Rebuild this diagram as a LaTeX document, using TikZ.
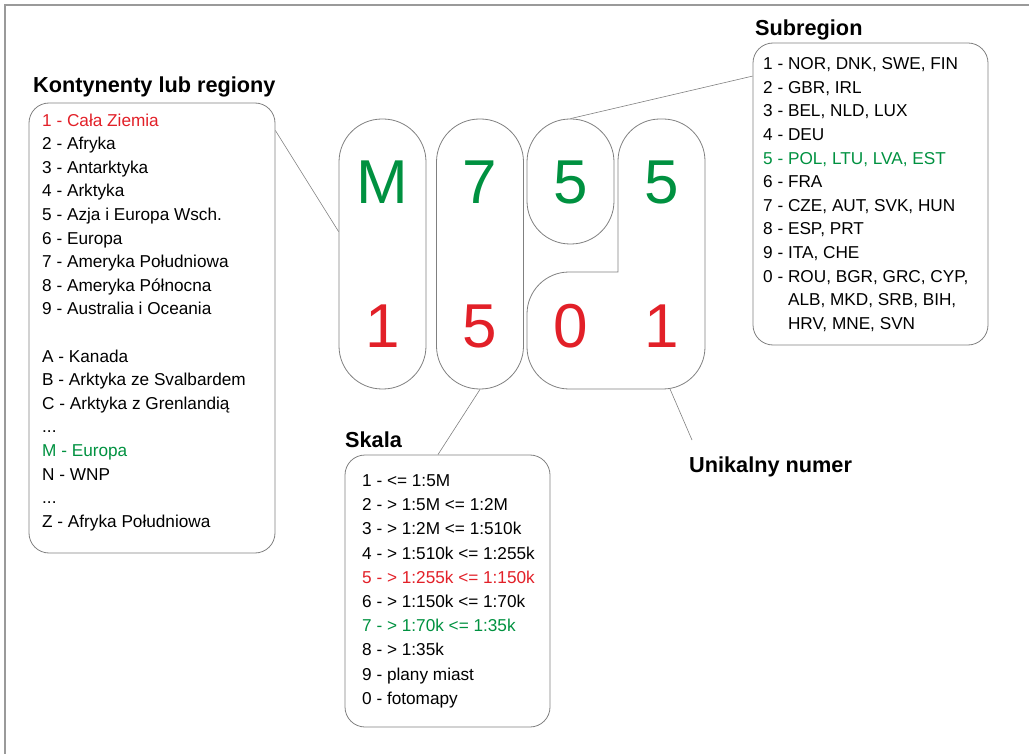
\documentclass[tikz,border=0pt]{standalone}
\usepackage{fontspec}
\setmainfont{Liberation Sans}
\definecolor{mapred}{RGB}{226,32,40}
\definecolor{mapgreen}{RGB}{0,145,64}
\definecolor{framegray}{RGB}{128,128,128}
\tikzset{
  listbox/.style={draw=framegray, line width=0.8pt, rounded corners=20pt},
  pill/.style={draw=framegray, line width=0.8pt, rounded corners=43pt, minimum width=87pt},
  title/.style={font=\fontsize{21.7}{26}\selectfont\bfseries, inner sep=0pt, anchor=base west},
  list/.style={font=\fontsize{17.2}{23.6}\selectfont, align=left, inner sep=0pt, anchor=north west},
  bigchar/.style={font=\fontsize{62}{62}\selectfont, anchor=base},
  link/.style={draw=framegray, line width=0.6pt},
}
\begin{document}
\begin{tikzpicture}[x=1pt, y=-1pt]
      \useasboundingbox (0,0) rectangle (1029,754);
      \draw[framegray!80, line width=1.2pt] (5,754) -- (5,5) -- (1029,5);
      % the code pieces
      \node[pill, minimum height=270pt] (colM) at (382.5,254) {};
      \node[pill, minimum height=270pt] (col7) at (480,254) {};
      \node[pill, minimum height=125pt] (sub5) at (570.5,181.5) {};
      \draw[framegray, line width=0.8pt] (618,272) [rounded corners=42pt] -- (618,119) -- (705,119) -- (705,389) -- (527,389) -- (527,272) [sharp corners] -- cycle;
      \coordinate (numfoot) at (670,389);
      \node[bigchar, mapgreen] (chM) at (382.5,204) {M};
      \node[bigchar, mapgreen] (ch7) at (480,204) {7};
      \node[bigchar, mapgreen] (ch5a) at (570.5,204) {5};
      \node[bigchar, mapgreen] (ch5b) at (661.5,204) {5};
      \node[bigchar, mapred] (ch1a) at (382.5,348) {1};
      \node[bigchar, mapred] (ch5c) at (480,348) {5};
      \node[bigchar, mapred] (ch0) at (570.5,348) {0};
      \node[bigchar, mapred] (ch1b) at (661.5,348) {1};
      % continents
      \node[title] (konttitle) at (33,93) {Kontynenty lub regiony};
      \node[listbox, minimum width=246pt, minimum height=450pt] (kontbox) at (152,328) {};
      \node[list] (kontlist) at (42,113.5) {\textcolor{mapred}{1 - Cała Ziemia}\\ 2 - Afryka\\ 3 - Antarktyka\\ 4 - Arktyka\\ 5 - Azja i Europa Wsch.\\ 6 - Europa\\ 7 - Ameryka Południowa\\ 8 - Ameryka Północna\\ 9 - Australia i Oceania\\[23.6pt] A - Kanada\\ B - Arktyka ze Svalbardem\\ C - Arktyka z Grenlandią\\ ...\\ \textcolor{mapgreen}{M - Europa}\\ N - WNP\\ ...\\ Z - Afryka Południowa};
      % subregions
      \node[title] (subtitle) at (755,36) {Subregion};
      \node[listbox, minimum width=235pt, minimum height=302pt] (subbox) at (870.5,194) {};
      \node[list] (sublist) at (763,57.5) {1 - NOR, DNK, SWE, FIN\\ 2 - GBR, IRL\\ 3 - BEL, NLD, LUX\\ 4 - DEU\\ \textcolor{mapgreen}{5 - POL, LTU, LVA, EST}\\ 6 - FRA\\ 7 - CZE, AUT, SVK, HUN\\ 8 - ESP, PRT\\ 9 - ITA, CHE\\ 0 - ROU, BGR, GRC, CYP,\\ \hphantom{0 - }ALB, MKD, SRB, BIH,\\ \hphantom{0 - }HRV, MNE, SVN};
      % scale
      \node[title] (skalatitle) at (345,447) {Skala};
      \node[listbox, minimum width=205pt, minimum height=272pt] (skalabox) at (447.5,591) {};
      \node[list, font=\fontsize{17.2}{24.2}\selectfont] (skalalist) at (362,474.5) {1 - <= 1:5M\\ 2 - > 1:5M <= 1:2M\\ 3 - > 1:2M <= 1:510k\\ 4 - > 1:510k <= 1:255k\\ \textcolor{mapred}{5 - > 1:255k <= 1:150k}\\ 6 - > 1:150k <= 1:70k\\ \textcolor{mapgreen}{7 - > 1:70k <= 1:35k}\\ 8 - > 1:35k\\ 9 - plany miast\\ 0 - fotomapy};
      % unique number
      \node[title] (numtitle) at (689,472) {Unikalny numer};
      \coordinate (numtip) at (692,440);
      % leaders
      \draw[link] (kontbox.58) -- (colM.153);
      \draw[link] (subbox.135) -- (sub5.north);
      \draw[link] (col7.south) -- (skalabox.94);
      \draw[link] (numfoot) -- (numtip);
\end{tikzpicture}
\end{document}
